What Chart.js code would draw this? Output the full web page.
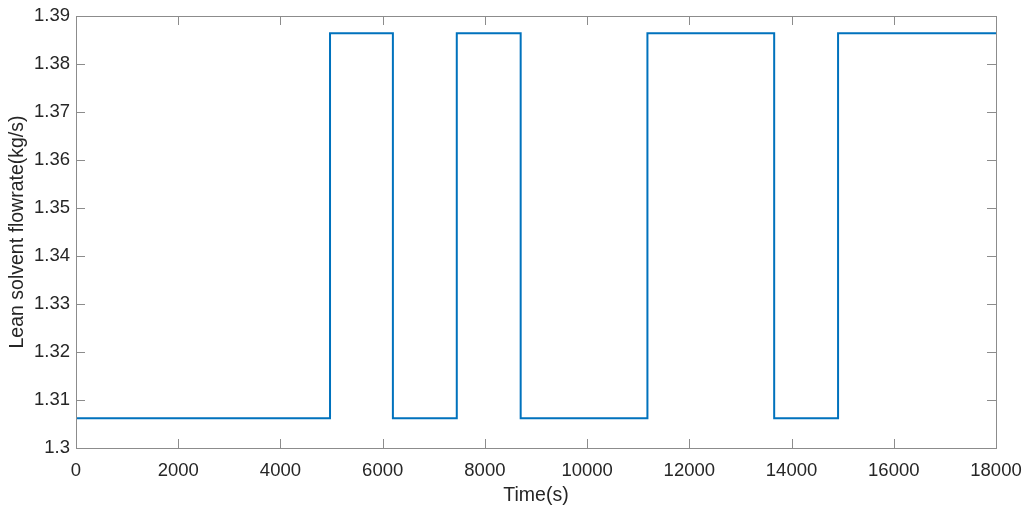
<!DOCTYPE html>
<html>
<head>
<meta charset="utf-8">
<script src="https://cdn.jsdelivr.net/npm/chart.js@4"></script>
<style>
  body { margin: 0; background: #fff; }
  #wrap { width: 1025px; height: 507px; }
</style>
</head>
<body>
<div id="wrap"><canvas id="graph" width="1025" height="507"></canvas></div>
<script>
// values
const times = [0, 4970, 6200, 7450, 8700, 11180, 13660, 14910, 18000];
const flow = [1.3062, 1.3864, 1.3062, 1.3864, 1.3062, 1.3864, 1.3062, 1.3864, 1.3864];
const xTicks = [0, 2000, 4000, 6000, 8000, 10000, 12000, 14000, 16000, 18000];
const yTicks = [1.3, 1.31, 1.32, 1.33, 1.34, 1.35, 1.36, 1.37, 1.38, 1.39];

const style = {
  line: '#0072BD',
  axis: '#8c8c8c',
  text: '#262626',
  font: "'Liberation Sans', Arial, sans-serif"
};

// box round the plot and inward tick marks, like matlab
const boxPlugin = {
  id: 'box',
  afterDraw(chart) {
    const { ctx, chartArea: a, scales } = chart;
    ctx.save();
    ctx.strokeStyle = style.axis;
    ctx.lineWidth = 1;
    ctx.strokeRect(Math.round(a.left) + 0.5, Math.round(a.top) + 0.5, Math.round(a.right - a.left), Math.round(a.bottom - a.top));
    ctx.beginPath();
    const len = 9;
    scales.x.ticks.forEach(t => {
      const px = Math.round(scales.x.getPixelForValue(t.value)) + 0.5;
      ctx.moveTo(px, a.bottom); ctx.lineTo(px, a.bottom - len);
      ctx.moveTo(px, a.top); ctx.lineTo(px, a.top + len);
    });
    scales.y.ticks.forEach(t => {
      const py = Math.round(scales.y.getPixelForValue(t.value)) + 0.5;
      ctx.moveTo(a.left, py); ctx.lineTo(a.left + len, py);
      ctx.moveTo(a.right, py); ctx.lineTo(a.right - len, py);
    });
    ctx.stroke();
    ctx.restore();
  }
};

const config = {
  type: 'line',
  data: {
    datasets: [{
      data: times.map((t, i) => ({ x: t, y: flow[i] })),
      borderColor: style.line,
      borderWidth: 2,
      stepped: 'before',
      pointRadius: 0,
      fill: false
    }]
  },
  options: {
    responsive: false,
    animation: false,
    layout: { padding: { top: 16, right: 29, left: 0, bottom: 0 } },
    plugins: { legend: { display: false }, tooltip: { enabled: false } },
    scales: {
      x: {
        type: 'linear',
        min: 0, max: 18000,
        afterBuildTicks: s => { s.ticks = xTicks.map(v => ({ value: v })); },
        afterFit: s => { s.height = 59; s.paddingLeft = 0; s.paddingRight = 0; },
        grid: { display: false, drawTicks: false },
        border: { display: false },
        ticks: { color: style.text, font: { family: style.font, size: 18.5 }, padding: 12, maxRotation: 0, callback: v => String(v) },
        title: { display: true, text: 'Time(s)', color: style.text, font: { family: style.font, size: 19.5 }, padding: { top: 0, bottom: 0 } }
      },
      y: {
        min: 1.3, max: 1.39,
        afterBuildTicks: s => { s.ticks = yTicks.map(v => ({ value: v })); },
        afterFit: s => { s.width = 76; s.paddingTop = 0; s.paddingBottom = 0; },
        grid: { display: false, drawTicks: false },
        border: { display: false },
        ticks: { color: style.text, font: { family: style.font, size: 18.5 }, padding: 6, callback: v => String(Math.round(v * 100) / 100) },
        title: { display: true, text: 'Lean solvent flowrate(kg/s)', color: style.text, font: { family: style.font, size: 19.5 }, padding: { top: 6, bottom: 0 } }
      }
    }
  },
  plugins: [boxPlugin]
};

const graph = new Chart(document.getElementById('graph'), config);
</script>
</body>
</html>
